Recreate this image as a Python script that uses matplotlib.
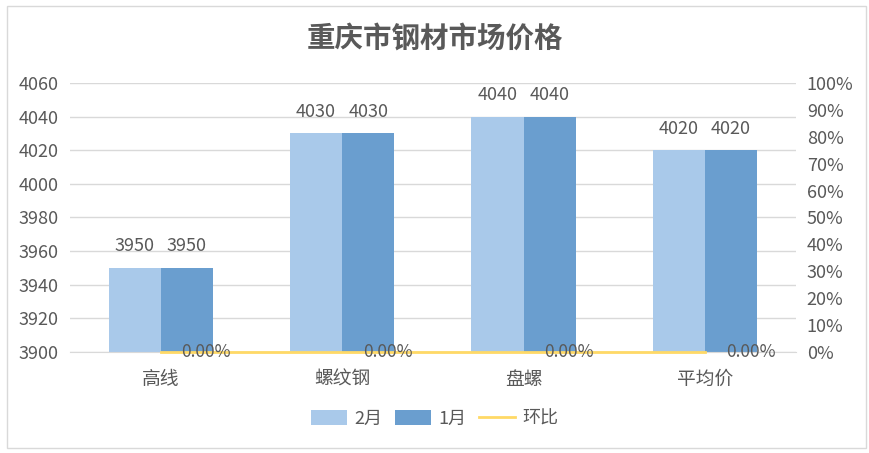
import matplotlib
matplotlib.use("Agg")
import matplotlib.pyplot as plt
from matplotlib.patches import Rectangle
import numpy as np

plt.rcParams['font.family'] = ['Noto Sans CJK SC', 'DejaVu Sans']

categories = ["高线", "螺纹钢", "盘螺", "平均价"]
feb = [3950, 4030, 4040, 4020]
jan = [3950, 4030, 4040, 4020]
mom = [0.0, 0.0, 0.0, 0.0]
title = "重庆市钢材市场价格"

c_feb = "#A9C9EA"
c_jan = "#6A9ECF"
c_line = "#FFD966"
c_text = "#595959"
c_grid = "#D9D9D9"

fig = plt.figure(figsize=(8.69, 4.53), dpi=100)
fig.patches.append(Rectangle((0.008, 0.012), 0.988, 0.975, transform=fig.transFigure,
                             fill=False, edgecolor="#D9D9D9", linewidth=1.0))
ax = fig.add_axes([0.0806, 0.223, 0.835, 0.594])
x = np.arange(len(categories))
w = 0.287
b1 = ax.bar(x - w/2, [v - 3900 for v in feb], w, bottom=3900, color=c_feb, label="2月", zorder=2)
b2 = ax.bar(x + w/2, [v - 3900 for v in jan], w, bottom=3900, color=c_jan, label="1月", zorder=2)
ax.set_ylim(3900, 4060)
ax.set_yticks(np.arange(3900, 4061, 20))
ax.set_xlim(-0.5, len(categories) - 0.5)
ax.set_xticks(x)
ax.set_xticklabels(categories, color=c_text)
ax.grid(axis='y', color=c_grid, linewidth=1, zorder=0)
ax.set_axisbelow(True)
for s in ['top', 'right', 'left']:
    ax.spines[s].set_visible(False)
ax.spines['bottom'].set_color(c_grid)
ax.tick_params(axis='y', length=0, labelsize=13, labelcolor=c_text, pad=8)
ax.tick_params(axis='x', length=0, pad=12, labelsize=13.5, labelcolor=c_text)

for bars, vals in ((b1, feb), (b2, jan)):
    for r, v in zip(bars, vals):
        ax.annotate(f"{v}", (r.get_x() + r.get_width()/2, v), xytext=(0, 9),
                    textcoords='offset points', ha='center', va='bottom',
                    fontsize=13, color=c_text)

ax2 = ax.twinx()
ax2.set_ylim(0, 1)
ax2.set_yticks(np.arange(0, 1.01, 0.1))
ax2.set_yticklabels([f"{int(round(t*100))}%" for t in np.arange(0, 1.01, 0.1)])
ax2.tick_params(axis='y', length=0, labelsize=13, labelcolor=c_text, pad=8)
for s in ax2.spines.values():
    s.set_visible(False)
ln, = ax2.plot(x, mom, color=c_line, linewidth=2, label="环比", zorder=3, clip_on=False)
for xi, v in zip(x, mom):
    ax2.annotate(f"{v*100:.2f}%", (xi, v), xytext=(15, 0), textcoords='offset points',
                 ha='left', va='center', fontsize=12.5, color=c_text)

fig.text(0.5, 0.915, title, ha='center', va='center', fontsize=20.5, color=c_text, weight='bold')

handles = [b1, b2, ln]
fig.legend(handles, ["2月", "1月", "环比"], loc='center', bbox_to_anchor=(0.5, 0.075),
           ncol=3, frameon=False, fontsize=13, labelcolor=c_text, handlelength=2.0,
           handleheight=0.9, handletextpad=0.4, columnspacing=0.7)

fig.savefig("out.png", dpi=100)
